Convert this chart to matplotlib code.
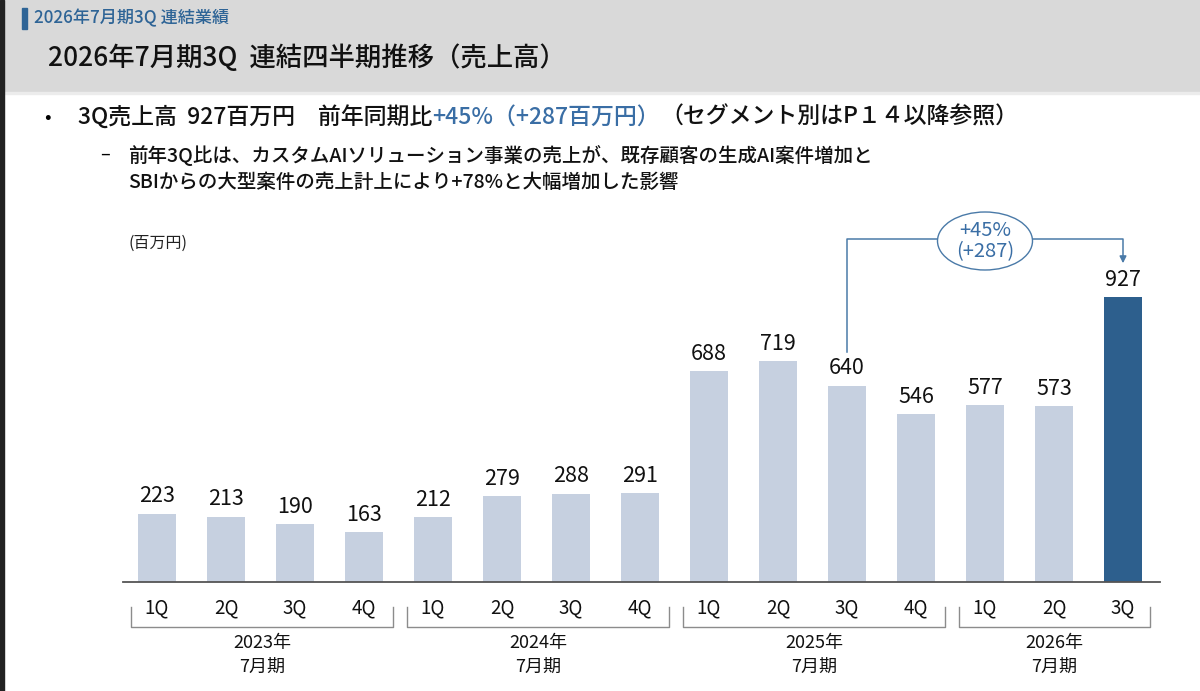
import matplotlib
matplotlib.use("Agg")
import matplotlib.pyplot as plt
import matplotlib.patches as mpatches
import numpy as np

plt.rcParams["font.family"] = ["Noto Sans CJK JP", "DejaVu Sans"]

# data (百万円)
quarters = ["1Q", "2Q", "3Q", "4Q",
            "1Q", "2Q", "3Q", "4Q",
            "1Q", "2Q", "3Q", "4Q",
            "1Q", "2Q", "3Q"]
sales = [223, 213, 190, 163,
         212, 279, 288, 291,
         688, 719, 640, 546,
         577, 573, 927]
fiscal_years = ["2023年\n7月期", "2024年\n7月期", "2025年\n7月期", "2026年\n7月期"]
yoy_text = "+45%\n(+287)"

LIGHT = "#c6d0e0"
DARK = "#2d5f8d"
BLUE = "#3a6ea5"
W, H = 1200, 691


def fx(x):
    return x / W


def fy(y):
    return 1 - y / H


fig = plt.figure(figsize=(12, 6.91), dpi=100)
fig.patch.set_facecolor("white")

# header band
fig.patches.append(mpatches.Rectangle((0, fy(92)), 1, 92 / H, transform=fig.transFigure,
                                      color="#d9d9d9", zorder=0))
fig.patches.append(mpatches.Rectangle((0, fy(94)), 1, 2 / H, transform=fig.transFigure,
                                      color="#ececec", zorder=0))
fig.patches.append(mpatches.Rectangle((0, 0), 4 / W, 1, transform=fig.transFigure,
                                      color="#222222", zorder=5))
fig.patches.append(mpatches.Rectangle((fx(22), fy(29)), 5 / W, 21 / H, transform=fig.transFigure,
                                      color="#2e6496", zorder=1))

fig.text(fx(34), fy(18), "2026年7月期3Q 連結業績", fontsize=12.3, color="#2e6496",
         va="center", ha="left", fontweight="medium")
fig.text(fx(48), fy(58), "2026年7月期3Q  連結四半期推移（売上高）", fontsize=19,
         color="#111111", va="center", ha="left", fontweight="medium")

# bullet line with blue part
LINE_FS = 16.5
fig.text(fx(44), fy(117), "•", fontsize=14, va="center", ha="left")
segs = [("3Q売上高  927百万円　前年同期比", "#111111"),
        ("+45%（+287百万円）", BLUE),
        ("（セグメント別はP１４以降参照）", "#111111")]
last = fig.text(fx(78), fy(117), segs[0][0], fontsize=LINE_FS, color=segs[0][1],
                va="center", ha="left", fontweight="medium")
fig.canvas.draw()
r = fig.canvas.get_renderer()
for s, c in segs[1:]:
    bb = last.get_window_extent(r)
    last = fig.text(bb.x1 / W, fy(117), s, fontsize=LINE_FS, color=c, va="center",
                    ha="left", fontweight="medium")

fig.text(fx(100), fy(155), "–", fontsize=13, va="center", ha="left")
fig.text(fx(128), fy(155), "前年3Q比は、カスタムAIソリューション事業の売上が、既存顧客の生成AI案件増加と",
         fontsize=14, va="center", ha="left", color="#111111", fontweight="medium")
fig.text(fx(128), fy(183), "SBIからの大型案件の売上計上により+78%と大幅増加した影響",
         fontsize=14, va="center", ha="left", color="#111111", fontweight="medium")
fig.text(fx(128), fy(243), "(百万円)", fontsize=11.5, va="center", ha="left", color="#222222")

# chart axes
px_per_unit = 0.307
ax = fig.add_axes([fx(123), fy(582), (1160 - 123) / W, (582 - 230) / H])
x = np.arange(len(sales))
colors = [LIGHT] * (len(sales) - 1) + [DARK]
ax.bar(x, sales, width=0.56, color=colors, zorder=2)
ax.set_xlim((123 - 157) / 69, (1160 - 157) / 69)
ax.set_ylim(0, 352 / px_per_unit)

for xi, v in zip(x, sales):
    ax.text(xi, v + 20, f"{v}", ha="center", va="bottom", fontsize=15.5, color="#111111")

for s in ["top", "right", "left"]:
    ax.spines[s].set_visible(False)
ax.spines["bottom"].set_color("#555555")
ax.spines["bottom"].set_linewidth(1.3)
ax.set_yticks([])
ax.set_xticks(x)
ax.set_xticklabels(quarters, fontsize=13.5, color="#111111")
ax.tick_params(axis="x", length=0, pad=11)


# fiscal year brackets
def py(p):
    return -(p - 582) / px_per_unit


for g, label in enumerate(fiscal_years):
    x0 = 4 * g - 0.38
    x1 = min(4 * g + 3.42, len(sales) - 1 + 0.39)
    ax.plot([x0, x0, x1, x1], [py(607), py(627), py(627), py(607)], color="#8c8c8c",
            lw=1.0, clip_on=False)
    ax.text((x0 + x1) / 2, py(655), label, ha="center", va="center", fontsize=13,
            linespacing=1.45, color="#111111", clip_on=False)

# yoy annotation
i_from, i_to = 10, 14
y_top = py(239)
ax.plot([i_from, i_from, i_to, i_to], [sales[i_from] + 110, y_top, y_top, py(257)],
        color="#4a7aa8", lw=1.1, clip_on=False, zorder=3)
ax.annotate("", xy=(i_to, py(266)), xytext=(i_to, py(255)),
            arrowprops=dict(arrowstyle="-|>", color="#4a7aa8", lw=1.1, mutation_scale=10),
            annotation_clip=False)
ell = mpatches.Ellipse((12, py(241)), 95 / 69, 58 / px_per_unit, facecolor="white",
                       edgecolor="#4a7aa8", lw=1.0, zorder=4, clip_on=False)
ax.add_patch(ell)
ax.text(12, py(241), yoy_text, ha="center", va="center", fontsize=14.5, color=BLUE,
        linespacing=1.0, zorder=5, clip_on=False)

fig.savefig("out.png", dpi=100)
